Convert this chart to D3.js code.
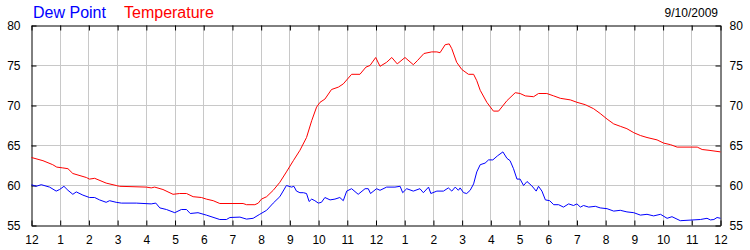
<!DOCTYPE html>
<html>
<head>
<meta charset="utf-8">
<script src="https://cdn.jsdelivr.net/npm/d3@7"></script>
<style>
  body { margin: 0; background: #fff; }
  svg text { font-family: Arial, "Liberation Sans", sans-serif; }
</style>
</head>
<body>
<svg id="chart" width="750" height="250"></svg>
<script>
/** Hour-of-day ticks along the bottom */
var hourTicks = d3.range(0, 25);
var hourLabels = ['12','1','2','3','4','5','6','7','8','9','10','11',
                  '12','1','2','3','4','5','6','7','8','9','10','11','12'];

/** Degree ticks on both sides */
var degreeTicks = [55, 60, 65, 70, 75, 80];

var chartDate = '9/10/2009';

/** Temperature readings: hours after midnight and degrees */
var tempHours = [0.00,0.40,0.74,0.88,1.09,1.27,1.44,1.91,2.02,2.20,2.60,2.95,3.07,4.00,4.17,4.29,4.58,4.93,
  5.16,5.40,5.63,5.92,6.09,6.33,6.56,7.37,7.49,7.78,7.90,8.01,8.19,8.42,8.65,8.88,9.12,9.35,9.58,9.76,
  9.93,10.05,10.22,10.45,10.69,10.86,11.15,11.44,11.65,11.79,11.99,12.14,12.37,12.55,12.74,13.01,13.30,
  13.44,13.67,13.94,14.12,14.23,14.41,14.55,14.64,14.81,14.99,15.22,15.40,15.51,15.63,15.86,16.09,16.27,
  16.56,16.85,17.02,17.20,17.49,17.66,17.95,18.19,18.42,18.77,19.00,19.29,19.58,19.81,20.05,20.28,20.51,
  20.74,20.98,21.21,21.44,21.79,22.02,22.26,22.49,23.19,23.36,23.60,24.00];
var tempValues = [63.5,63.1,62.6,62.3,62.2,62.1,61.5,61.0,60.8,60.9,60.3,60.0,59.9,59.8,59.7,59.8,59.5,58.9,
  59.0,59.0,58.6,58.5,58.3,58.1,57.75,57.75,57.6,57.6,57.8,58.3,58.6,59.4,60.4,61.7,63.1,64.4,66.0,68.1,
  69.8,70.4,70.8,72.0,72.3,72.7,73.9,73.9,74.8,75.0,76.0,74.9,75.4,76.0,75.2,76.0,75.1,
  75.6,76.5,76.7,76.7,76.6,77.6,77.7,77.1,75.4,74.5,73.9,73.9,73.1,71.9,70.4,69.3,69.3,
  70.6,71.6,71.5,71.2,71.1,71.5,71.5,71.2,70.9,70.7,70.4,70.1,69.6,69.0,68.3,67.7,67.4,
  67.1,66.6,66.25,66.0,65.7,65.3,65.1,64.8,64.8,64.5,64.4,64.2];

/** Dew point readings: hours after midnight and degrees */
var dewHours = [0.00,0.16,0.34,0.63,0.86,0.98,1.13,1.27,1.44,1.56,1.79,2.02,2.20,2.37,2.60,2.72,2.95,3.13,
  3.65,4.17,4.33,4.47,4.70,4.99,5.22,5.40,5.53,5.80,6.09,6.56,6.79,6.91,7.26,7.49,7.72,7.95,8.19,8.42,
  8.65,8.88,9.06,9.14,9.23,9.35,9.47,9.58,9.67,9.76,9.87,9.99,10.10,10.22,10.40,10.57,10.74,10.86,10.98,
  11.15,11.38,11.62,11.73,11.81,12.02,12.14,12.37,12.66,12.84,12.93,13.07,13.30,13.53,13.65,13.83,13.91,
  14.12,14.35,14.52,14.64,14.76,14.87,14.93,15.05,15.16,15.28,15.40,15.51,15.63,15.80,15.92,16.07,16.23,
  16.42,16.56,16.67,16.79,16.91,17.02,17.14,17.26,17.43,17.58,17.66,17.78,17.90,18.05,18.19,18.36,18.53,
  18.71,18.88,19.00,19.12,19.23,19.41,19.64,19.81,20.05,20.28,20.51,20.74,20.98,21.21,21.44,21.67,21.91,
  22.14,22.31,22.60,23.30,23.53,23.65,23.77,23.88,24.00];
var dewValues = [60.1,59.9,60.1,59.8,59.3,59.5,59.9,59.4,58.9,59.2,58.8,58.5,58.5,58.2,57.9,58.1,57.9,57.8,
  57.8,57.7,57.8,57.2,57.0,56.6,57.0,57.0,56.5,56.6,56.3,55.75,55.75,56.0,56.05,55.8,55.9,56.4,56.9,57.8,
  58.6,60.0,59.8,59.9,59.3,59.1,59.1,59.0,58.0,58.3,58.1,57.8,57.9,58.5,58.2,58.3,58.5,58.1,59.3,
  59.6,58.9,59.6,59.6,59.0,59.6,59.4,59.8,59.8,59.9,59.1,59.6,59.3,59.6,59.1,59.8,59.0,
  59.3,59.3,59.7,59.3,59.8,59.4,59.7,59.1,59.0,59.4,60.2,61.7,62.6,62.8,63.2,63.2,63.7,
  64.2,63.4,63.1,62.1,60.8,60.8,60.0,60.5,59.95,59.3,59.9,59.3,58.2,58.1,57.6,57.6,57.3,
  57.7,57.5,57.7,57.3,57.5,57.3,57.4,57.2,57.1,56.8,56.9,56.7,56.6,56.3,56.4,56.2,56.4,
  55.9,56.1,55.6,55.75,55.9,55.7,55.75,56.0,55.9];

/** Plot box */
var plotLeft = 31, plotRight = 720, plotTop = 25, plotBottom = 225,
    tickLen = 5;

var svg = d3.select('#chart');

var xScale = d3.scaleLinear()
    .domain([0, 24])
    .range([plotLeft + 0.5, plotRight + 0.5]);

var yScale = d3.scaleLinear()
    .domain([55, 80])
    .range([plotBottom + 0.5, plotTop + 0.5]);

/** Grid lines */
svg.append('g').selectAll('line.vgrid')
    .data(hourTicks.slice(1, -1)).enter().append('line')
    .attr('x1', function(d){ return Math.round(xScale(d) - 0.5) + 0.5; })
    .attr('x2', function(d){ return Math.round(xScale(d) - 0.5) + 0.5; })
    .attr('y1', plotTop).attr('y2', plotBottom)
    .attr('stroke', '#c8c8c8');

svg.append('g').selectAll('line.hgrid')
    .data(degreeTicks.slice(1, -1)).enter().append('line')
    .attr('y1', function(d){ return yScale(d); })
    .attr('y2', function(d){ return yScale(d); })
    .attr('x1', plotLeft).attr('x2', plotRight)
    .attr('stroke', '#c8c8c8');

/** Axes, ticks pointing into the plot */
var bottomAxis = d3.axisBottom(xScale).tickValues(hourTicks)
    .tickSizeInner(-tickLen).tickSizeOuter(0).tickPadding(10)
    .tickFormat(function(d, i){ return hourLabels[i]; });
var topAxis = d3.axisTop(xScale).tickValues(hourTicks)
    .tickSizeInner(-tickLen).tickSizeOuter(0).tickFormat('');
var leftAxis = d3.axisLeft(yScale).tickValues(degreeTicks)
    .tickSizeInner(-tickLen).tickSizeOuter(0).tickPadding(11);
var rightAxis = d3.axisRight(yScale).tickValues(degreeTicks)
    .tickSizeInner(-tickLen).tickSizeOuter(0).tickPadding(9);

function styleAxis(g) {
  g.selectAll('path, line').attr('stroke', '#000');
  g.selectAll('text').attr('fill', '#000')
    .style('font-size', '12px')
    .style('font-family', 'Arial, "Liberation Sans", sans-serif');
}

svg.append('g').attr('transform', 'translate(0,' + (plotBottom + 0.5) + ')')
    .call(bottomAxis).call(styleAxis);
svg.append('g').attr('transform', 'translate(0,' + (plotTop + 0.5) + ')')
    .call(topAxis).call(styleAxis);
svg.append('g').attr('transform', 'translate(' + (plotLeft + 0.5) + ',0)')
    .call(leftAxis).call(styleAxis);
svg.append('g').attr('transform', 'translate(' + (plotRight + 0.5) + ',0)')
    .call(rightAxis).call(styleAxis);

/** Series lines */
var line = d3.line()
    .x(function(d){ return xScale(d[0]); })
    .y(function(d){ return yScale(d[1]); });

svg.append('path')
    .datum(d3.zip(tempHours, tempValues))
    .attr('d', line)
    .attr('fill', 'none')
    .attr('stroke', '#ff0000')
    .attr('stroke-width', 1);

svg.append('path')
    .datum(d3.zip(dewHours, dewValues))
    .attr('d', line)
    .attr('fill', 'none')
    .attr('stroke', '#0000ff')
    .attr('stroke-width', 1);

/** Legend and date */
svg.append('text').attr('x', 33).attr('y', 18)
    .style('font-size', '16px').attr('fill', '#0000ff').text('Dew Point');
svg.append('text').attr('x', 124).attr('y', 18)
    .style('font-size', '16px').attr('fill', '#ff0000').text('Temperature');
svg.append('text').attr('x', 718).attr('y', 17)
    .attr('text-anchor', 'end')
    .style('font-size', '12px').attr('fill', '#000').text(chartDate);
</script>
</body>
</html>
